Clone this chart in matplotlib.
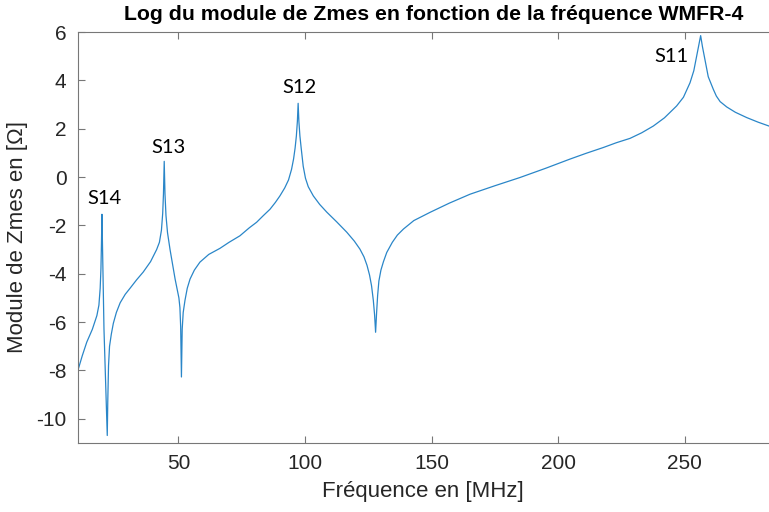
import matplotlib
matplotlib.use("Agg")
import matplotlib.pyplot as plt

plt.rcParams["axes.unicode_minus"] = False

# Frequency (MHz) and log of |Zmes|
freq = [10.1, 12.0, 13.8, 16.0, 17.8, 18.6, 19.1, 19.4, 19.6, 19.8, 20.6,
        21.9, 22.1, 22.4, 22.8, 23.5, 24.3, 25.5, 27.0, 29.0, 30.9, 33.5,
        36.1, 39.0, 41.4, 42.5, 43.3, 43.8, 44.1, 44.4, 44.7, 45.1, 45.7,
        46.7, 47.7, 48.7, 49.6, 50.2, 50.6, 50.9, 51.2, 51.5, 51.9, 52.6,
        53.5, 54.6, 56.3, 58.5, 62.0, 66.4, 70.0, 74.3, 78.0, 80.9, 83.5,
        86.2, 88.3, 90.1, 92.0, 93.5, 94.7, 95.5, 96.1, 96.6, 97.0, 97.3,
        97.6, 98.0, 98.5, 99.3, 100.2, 101.3, 103.3, 105.8, 108.6, 112.5,
        116.5, 119.5, 121.7, 123.3, 124.5, 125.5, 126.3, 127.0, 127.5, 127.9,
        128.3, 128.7, 129.2, 130.0, 131.0, 132.3, 134.5, 136.5, 138.9, 143.0,
        149.4, 157.0, 165.2, 175.0, 184.9, 195.0, 204.6, 211.0, 217.8, 223.0,
        228.4, 233.0, 237.6, 242.0, 246.8, 249.5, 252.1, 253.6, 254.7, 255.6,
        256.3, 257.0, 258.0, 259.3, 261.3, 262.5, 264.0, 266.6, 270.0, 274.5,
        279.0, 283.3]
log_z = [-8.07, -7.4, -6.83, -6.3, -5.73, -5.3, -4.6, -3.8, -2.8, -1.54, -6.28,
         -10.69, -9.3, -7.8, -7.0, -6.5, -6.05, -5.6, -5.2, -4.85, -4.6, -4.25,
         -3.93, -3.5, -3.0, -2.7, -2.2, -1.5, -0.7, 0.65, -0.7, -1.6, -2.3,
         -3.0, -3.6, -4.22, -4.7, -5.0, -5.4, -6.2, -8.27, -6.3, -5.6, -5.1,
         -4.6, -4.22, -3.85, -3.52, -3.2, -2.95, -2.7, -2.43, -2.1, -1.87, -1.6,
         -1.33, -1.05, -0.78, -0.45, -0.12, 0.32, 0.75, 1.2, 1.7, 2.3, 3.05,
         2.3, 1.7, 1.2, 0.45, -0.05, -0.4, -0.78, -1.13, -1.45, -1.85,
         -2.28, -2.65, -2.98, -3.3, -3.65, -4.05, -4.5, -5.1, -5.7, -6.42,
         -5.6, -4.9, -4.3, -3.85, -3.5, -3.12, -2.7, -2.4, -2.15, -1.8,
         -1.46, -1.08, -0.71, -0.36, -0.02, 0.36, 0.74, 0.98, 1.22, 1.42,
         1.6, 1.83, 2.11, 2.45, 2.94, 3.3, 3.9, 4.4, 5.0, 5.5,
         5.85, 5.4, 4.86, 4.15, 3.63, 3.35, 3.12, 2.9, 2.68, 2.46,
         2.27, 2.11]

# Mode labels and where they sit
mode_names = ["S14", "S13", "S12", "S11"]
mode_x = [21.0, 45.9, 98.0, 244.9]
mode_y = [-0.87, 1.23, 3.71, 4.99]

text_color = "#262626"
sans = ["Liberation Sans Narrow", "Liberation Sans", "DejaVu Sans"]

fig = plt.figure(figsize=(7.69, 5.12), dpi=100)
ax = fig.add_axes([0.1008, 0.1348, 0.8992, 0.8027])

ax.plot(freq, log_z, color="#2a86c8", linewidth=0.9)

for name, x, y in zip(mode_names, mode_x, mode_y):
    ax.text(x, y, name, ha="center", va="center", fontsize=14.5,
            family=["Lato", "DejaVu Sans"], color="black")

ax.set_xlim(10.15, 283.3)
ax.set_ylim(-11, 6)
ax.set_xticks([50, 100, 150, 200, 250])
ax.set_yticks(range(-10, 7, 2))

ax.spines["right"].set_visible(False)
for s in ["left", "top", "bottom"]:
    ax.spines[s].set_color("#777777")
    ax.spines[s].set_linewidth(0.8)
ax.tick_params(direction="in", top=True, length=5, width=0.8,
               color="#777777", labelcolor=text_color, labelsize=15, pad=8)
for lab in ax.get_xticklabels() + ax.get_yticklabels():
    lab.set_family(sans)

ax.set_xlabel("Fréquence en [MHz]", fontsize=16, color=text_color,
              family=sans, labelpad=6)
ax.set_ylabel("Module de Zmes en [Ω]", fontsize=16, color=text_color,
              family=sans, labelpad=6)
fig.text(0.564, 0.972, "Log du module de Zmes en fonction de la fréquence WMFR-4",
         ha="center", va="center", fontsize=15.3, fontweight="bold",
         family=sans, color="black")

fig.savefig("out.png", dpi=100)
